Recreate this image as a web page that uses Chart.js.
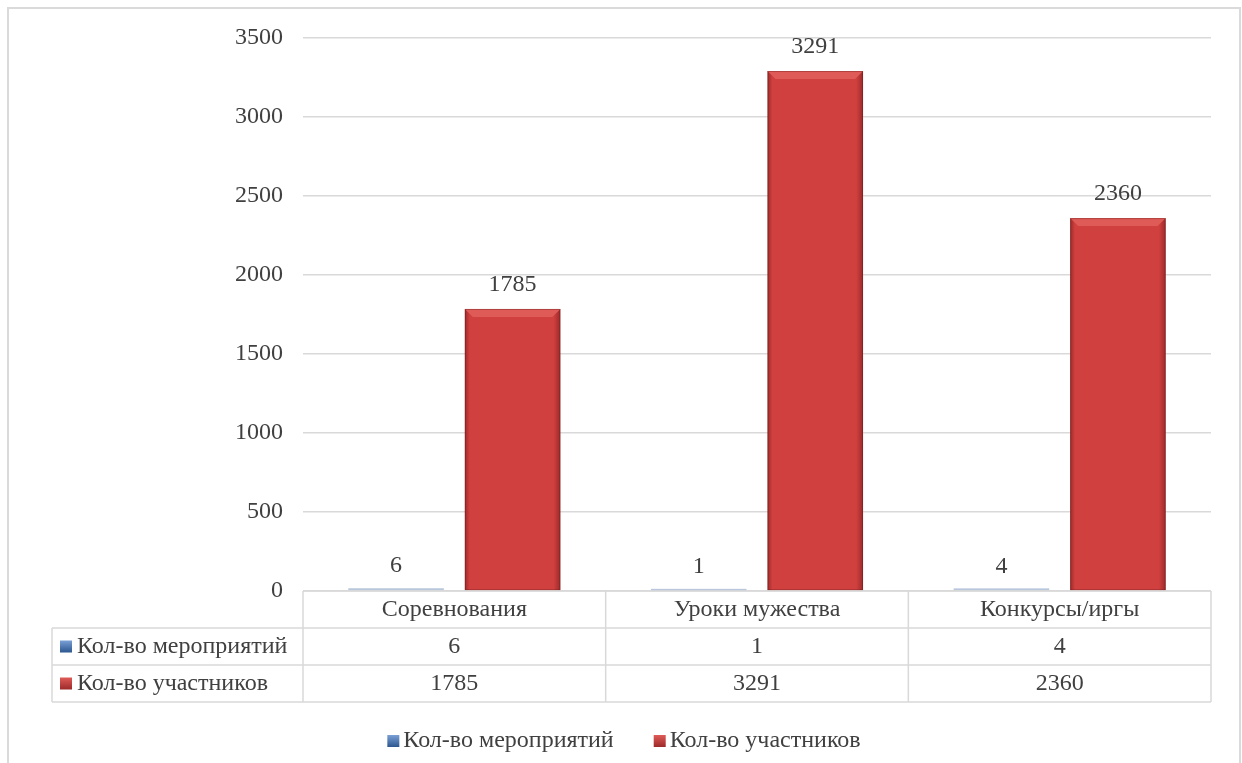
<!DOCTYPE html>
<html>
<head>
<meta charset="utf-8">
<script src="https://cdn.jsdelivr.net/npm/chart.js@4.4.0/dist/chart.umd.min.js"></script>
<style>
    html, body { margin: 0; padding: 0; background: #fff; overflow: hidden; }
    #frame { position: absolute; left: 7px; top: 7px; width: 1234px; height: 800px; border: 2px solid #dadada; box-sizing: border-box; }
    #wrap { position: absolute; left: 0; top: 0; width: 1242px; height: 763px; }
</style>
</head>
<body>
<div id="frame"></div>
<div id="wrap"><canvas id="chart" width="1242" height="763"></canvas></div>
<script>
let categories = ["Соревнования", "Уроки мужества", "Конкурсы/иргы"];
let seriesNames = ["Кол-во мероприятий", "Кол-во участников"];
let events = [6, 1, 4];
let participants = [1785, 3291, 2360];
let yMin = 0;
let yMax = 3500;
let yStep = 500;

let colors = [
    { main: "#4a78b8", light: "#7aa0d6", dark: "#2c568f", bar: "#b9c7dc" },
    { main: "#cf403e", light: "#df5b57", dark: "#9c2a2a" }
];
let textColor = "#404040";
let lineColor = "#d9d9d9";
let fontFamily = "'Liberation Serif', 'Times New Roman', serif";
let fontSize = 24;

function font() {
    return fontSize + "px " + fontFamily;
}

function drawKey(ctx, x, y, c) {
    let g = ctx.createLinearGradient(x, y, x, y + 12);
    g.addColorStop(0, c.light);
    g.addColorStop(1, c.dark);
    ctx.fillStyle = g;
    ctx.fillRect(x, y, 12, 12);
}

// bevelled look for the bars
let bevelPlugin = {
    id: "bevel",
    afterDatasetsDraw(chart) {
        let ctx = chart.ctx;
        chart.data.datasets.forEach((ds, di) => {
            let c = colors[di];
            chart.getDatasetMeta(di).data.forEach(bar => {
                let p = bar.getProps(["x", "y", "base", "width"], true);
                let l = p.x - p.width / 2, r = p.x + p.width / 2;
                let t = Math.min(p.y, p.base), b = Math.max(p.y, p.base);
                let h = b - t;
                ctx.save();
                if (h < 3) {
                    // tiny values: only a faint sliver is visible
                    ctx.fillStyle = c.bar || c.main;
                    ctx.fillRect(l, b - 2, r - l, 2);
                    ctx.restore();
                    return;
                }
                let g = ctx.createLinearGradient(l, 0, r, 0);
                g.addColorStop(0, c.dark);
                g.addColorStop(0.05, c.main);
                g.addColorStop(0.93, c.main);
                g.addColorStop(1, c.dark);
                ctx.fillStyle = g;
                ctx.fillRect(l, t, r - l, h);
                let bv = Math.min(8, h / 2);
                ctx.fillStyle = c.light;
                ctx.beginPath();
                ctx.moveTo(l, t);
                ctx.lineTo(r, t);
                ctx.lineTo(r - bv, t + bv);
                ctx.lineTo(l + bv, t + bv);
                ctx.closePath();
                ctx.fill();
                ctx.strokeStyle = "rgba(90,20,20,0.35)";
                ctx.lineWidth = 1;
                ctx.strokeRect(l + 0.5, t + 0.5, r - l - 1, h - 1);
                ctx.restore();
            });
        });
    }
};

let labelPlugin = {
    id: "labels",
    afterDatasetsDraw(chart) {
        let ctx = chart.ctx;
        ctx.save();
        ctx.font = font();
        ctx.fillStyle = textColor;
        ctx.textAlign = "center";
        ctx.textBaseline = "middle";
        chart.data.datasets.forEach((ds, di) => {
            chart.getDatasetMeta(di).data.forEach((bar, i) => {
                ctx.fillText(String(ds.data[i]), bar.x, bar.y - 24);
            });
        });
        ctx.restore();
    }
};

let tablePlugin = {
    id: "table",
    afterDraw(chart) {
        let ctx = chart.ctx;
        let area = chart.chartArea;
        let x = chart.scales.x;
        let rowH = 37;
        let top = area.bottom;
        let headLeft = 52;
        let colW = (area.right - area.left) / categories.length;
        ctx.save();
        ctx.strokeStyle = lineColor;
        ctx.lineWidth = 1.5;
        ctx.beginPath();
        ctx.moveTo(area.left, top);
        ctx.lineTo(area.right, top);
        for (let r = 1; r <= 3; r++) {
            ctx.moveTo(headLeft, top + r * rowH);
            ctx.lineTo(area.right, top + r * rowH);
        }
        ctx.moveTo(headLeft, top + rowH);
        ctx.lineTo(headLeft, top + 3 * rowH);
        for (let i = 0; i <= categories.length; i++) {
            let cx = area.left + i * colW;
            ctx.moveTo(cx, top);
            ctx.lineTo(cx, top + 3 * rowH);
        }
        ctx.stroke();

        ctx.font = font();
        ctx.fillStyle = textColor;
        ctx.textBaseline = "middle";
        ctx.textAlign = "center";
        categories.forEach((c, i) => {
            ctx.fillText(c, x.getPixelForValue(i), top + rowH / 2);
        });
        chart.data.datasets.forEach((ds, di) => {
            let cy = top + (di + 1.5) * rowH;
            ctx.fillStyle = textColor;
            ctx.textAlign = "center";
            ds.data.forEach((v, i) => {
                ctx.fillText(String(v), x.getPixelForValue(i), cy);
            });
            drawKey(ctx, headLeft + 8, cy - 6, colors[di]);
            ctx.fillStyle = textColor;
            ctx.textAlign = "left";
            ctx.fillText(ds.label, headLeft + 25, cy);
        });

        // legend
        let gap = 40, keyGap = 4;
        let widths = chart.data.datasets.map(ds => 12 + keyGap + ctx.measureText(ds.label).width);
        let total = widths.reduce((a, b) => a + b, 0) + gap * (widths.length - 1);
        let lx = 624 - total / 2;
        let ly = 741;
        chart.data.datasets.forEach((ds, di) => {
            drawKey(ctx, lx, ly - 6, colors[di]);
            ctx.fillStyle = textColor;
            ctx.textAlign = "left";
            ctx.fillText(ds.label, lx + 12 + keyGap, ly);
            lx += widths[di] + gap;
        });
        ctx.restore();
    }
};

let context = document.getElementById("chart").getContext("2d");
let chart = new Chart(context, {
    type: "bar",
    data: {
        labels: categories,
        datasets: [
            { label: seriesNames[0], data: events, backgroundColor: "rgba(0,0,0,0)" },
            { label: seriesNames[1], data: participants, backgroundColor: "rgba(0,0,0,0)" }
        ]
    },
    options: {
        responsive: false,
        animation: false,
        datasets: { bar: { barPercentage: 0.82, categoryPercentage: 0.77 } },
        layout: { padding: { left: 0, right: 31, top: 38, bottom: 61 } },
        plugins: {
            legend: { display: false },
            tooltip: { enabled: false }
        },
        scales: {
            x: {
                grid: { display: false },
                border: { display: false },
                ticks: { display: false },
                afterFit: s => { s.height = 111; }
            },
            y: {
                min: yMin,
                max: yMax,
                ticks: {
                    stepSize: yStep,
                    padding: 20,
                    color: textColor,
                    font: { family: fontFamily, size: fontSize },
                    callback: v => String(v)
                },
                grid: { color: lineColor, lineWidth: 1.5, drawTicks: false },
                border: { display: false },
                afterFit: s => { s.width = 303; }
            }
        }
    },
    plugins: [bevelPlugin, labelPlugin, tablePlugin]
});
</script>
</body>
</html>
